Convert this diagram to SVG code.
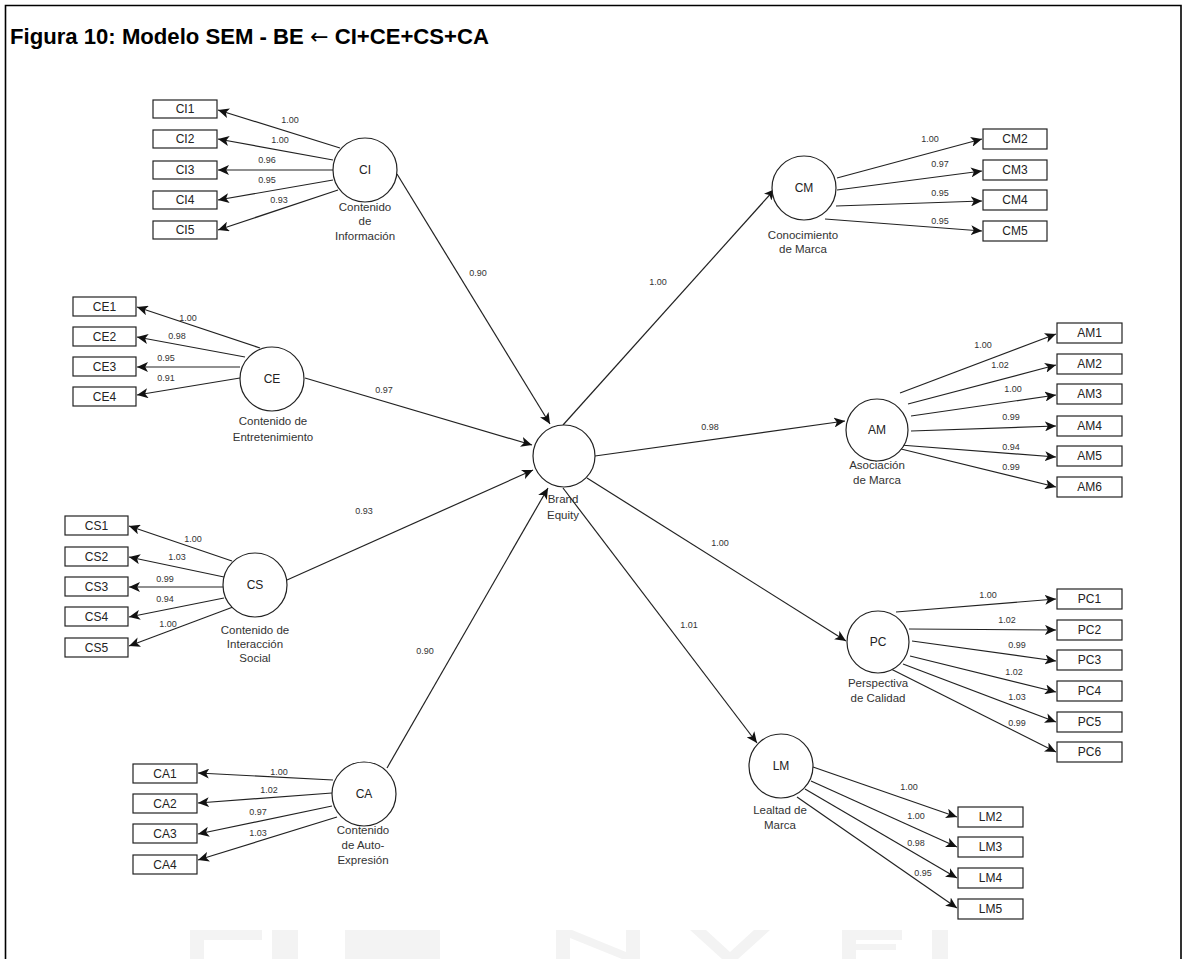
<svg xmlns="http://www.w3.org/2000/svg" width="1187" height="959" viewBox="0 0 1187 959">
  <style>
    .frame { fill: none; stroke: #000; stroke-width: 1.6; }
    .title { font-family: "Liberation Sans", Arial, sans-serif; font-size: 22px; font-weight: bold; fill: #000; }
    .arrowglyph { font-family: "DejaVu Sans", sans-serif; font-weight: normal; }
    .box { fill: #fff; stroke: #222; stroke-width: 1.2; }
    .lat { fill: #fff; stroke: #222; stroke-width: 1.2; }
    .bt { font-family: "Liberation Sans", Arial, sans-serif; font-size: 12px; fill: #222; text-anchor: middle; }
    .ct { font-family: "Liberation Sans", Arial, sans-serif; font-size: 12px; fill: #222; text-anchor: middle; }
    .cap { font-family: "Liberation Sans", Arial, sans-serif; font-size: 11.5px; fill: #333; text-anchor: middle; }
    .w { font-family: "Liberation Sans", Arial, sans-serif; font-size: 9px; fill: #333; text-anchor: middle; }
    .edge { fill: none; stroke: #222; stroke-width: 1.2; marker-end: url(#arr); }
    .wm { fill: #f3f3f3; }
  </style>
  <defs>
    <marker id="arr" markerUnits="userSpaceOnUse" markerWidth="12" markerHeight="10" refX="11" refY="5" orient="auto">
      <path d="M0,0 L11,5 L0,10 L2.8,5 Z" fill="#111"/>
    </marker>
  </defs>

  <rect width="1187" height="959" fill="#fff"/>

  <!-- faint background mark along the bottom -->
  <g id="backmark">
    <path class="wm" d="M190,930 H262 V940 H204 V959 H190 Z"/>
    <rect class="wm" x="272" y="930" width="26" height="29"/>
    <rect class="wm" x="345" y="930" width="95" height="29"/>
    <path class="wm" d="M556,930 H572 L626,952 V930 H640 V959 H622 L570,938 V959 H556 Z"/>
    <path class="wm" d="M690,930 H706 L730,952 L754,930 H770 L738,959 H722 Z"/>
    <path class="wm" d="M842,930 H902 V940 H856 V944 H896 V950 H856 V959 H842 Z"/>
    <rect class="wm" x="932" y="930" width="16" height="29"/>
  </g>

  <!-- outer frame -->
  <path class="frame" d="M5.5,959 V5.5 H1181 V959"/>

  <text class="title" x="10" y="44" textLength="479" lengthAdjust="spacingAndGlyphs">Figura 10: Modelo SEM - BE <tspan class="arrowglyph">←</tspan> CI+CE+CS+CA</text>

  <!-- connectors -->
  <g id="connectors">
    <!-- CI indicators -->
    <line class="edge" x1="340" y1="148" x2="218" y2="110"/>
    <line class="edge" x1="333" y1="160" x2="218" y2="139"/>
    <line class="edge" x1="333" y1="170" x2="218" y2="170"/>
    <line class="edge" x1="333" y1="180" x2="218" y2="200"/>
    <line class="edge" x1="338" y1="190" x2="218" y2="230"/>
    <!-- CE indicators -->
    <line class="edge" x1="260" y1="348" x2="137" y2="307"/>
    <line class="edge" x1="245" y1="357" x2="137" y2="337"/>
    <line class="edge" x1="240" y1="367" x2="137" y2="367"/>
    <line class="edge" x1="240" y1="378" x2="137" y2="395"/>
    <!-- CS indicators -->
    <line class="edge" x1="232" y1="561" x2="129" y2="526"/>
    <line class="edge" x1="224" y1="577" x2="129" y2="557"/>
    <line class="edge" x1="223" y1="587" x2="129" y2="587"/>
    <line class="edge" x1="224" y1="598" x2="129" y2="617"/>
    <line class="edge" x1="233" y1="607" x2="129" y2="646"/>
    <!-- CA indicators -->
    <line class="edge" x1="333" y1="780" x2="198" y2="773"/>
    <line class="edge" x1="332" y1="793" x2="198" y2="803"/>
    <line class="edge" x1="332" y1="806" x2="198" y2="834"/>
    <line class="edge" x1="337" y1="817" x2="198" y2="860"/>
    <!-- CM indicators -->
    <line class="edge" x1="837" y1="178" x2="982" y2="139"/>
    <line class="edge" x1="837" y1="190" x2="982" y2="171"/>
    <line class="edge" x1="836" y1="206" x2="982" y2="201"/>
    <line class="edge" x1="825" y1="219" x2="982" y2="231"/>
    <!-- AM indicators -->
    <line class="edge" x1="900" y1="393" x2="1056" y2="334"/>
    <line class="edge" x1="908" y1="404" x2="1056" y2="365"/>
    <line class="edge" x1="911" y1="416" x2="1056" y2="395"/>
    <line class="edge" x1="911" y1="431" x2="1056" y2="426"/>
    <line class="edge" x1="900" y1="445" x2="1056" y2="457"/>
    <line class="edge" x1="897" y1="448" x2="1056" y2="487"/>
    <!-- PC indicators -->
    <line class="edge" x1="896" y1="612" x2="1056" y2="599"/>
    <line class="edge" x1="909" y1="629" x2="1056" y2="630"/>
    <line class="edge" x1="912" y1="641" x2="1056" y2="661"/>
    <line class="edge" x1="910" y1="656" x2="1056" y2="692"/>
    <line class="edge" x1="903" y1="664" x2="1056" y2="722"/>
    <line class="edge" x1="891" y1="669" x2="1056" y2="752"/>
    <!-- LM indicators -->
    <line class="edge" x1="813" y1="767" x2="957" y2="817"/>
    <line class="edge" x1="811" y1="781" x2="957" y2="847"/>
    <line class="edge" x1="805" y1="789" x2="957" y2="878"/>
    <line class="edge" x1="797" y1="797" x2="957" y2="908"/>
    <!-- structural paths -->
    <line class="edge" x1="397" y1="174" x2="550" y2="424"/>
    <line class="edge" x1="305" y1="378" x2="532" y2="445"/>
    <line class="edge" x1="287" y1="580" x2="533" y2="470"/>
    <line class="edge" x1="387" y1="768" x2="548" y2="488"/>
    <line class="edge" x1="563" y1="425" x2="775" y2="189"/>
    <line class="edge" x1="595" y1="456" x2="845" y2="421"/>
    <line class="edge" x1="587" y1="478" x2="846" y2="641"/>
    <line class="edge" x1="563" y1="488" x2="757" y2="743"/>

    <!-- loadings -->
    <g class="wl">
      <text class="w" x="290" y="123">1.00</text>
      <text class="w" x="280" y="143">1.00</text>
      <text class="w" x="267" y="163">0.96</text>
      <text class="w" x="267" y="183">0.95</text>
      <text class="w" x="279" y="203">0.93</text>

      <text class="w" x="188" y="321">1.00</text>
      <text class="w" x="177" y="339">0.98</text>
      <text class="w" x="166" y="361">0.95</text>
      <text class="w" x="166" y="381">0.91</text>

      <text class="w" x="193" y="542">1.00</text>
      <text class="w" x="177" y="560">1.03</text>
      <text class="w" x="165" y="582">0.99</text>
      <text class="w" x="165" y="602">0.94</text>
      <text class="w" x="168" y="627">1.00</text>

      <text class="w" x="279" y="775">1.00</text>
      <text class="w" x="269" y="793">1.02</text>
      <text class="w" x="258" y="815">0.97</text>
      <text class="w" x="258" y="836">1.03</text>

      <text class="w" x="930" y="142">1.00</text>
      <text class="w" x="940" y="167">0.97</text>
      <text class="w" x="940" y="196">0.95</text>
      <text class="w" x="940" y="224">0.95</text>

      <text class="w" x="983" y="348">1.00</text>
      <text class="w" x="1000" y="368">1.02</text>
      <text class="w" x="1013" y="392">1.00</text>
      <text class="w" x="1011" y="420">0.99</text>
      <text class="w" x="1011" y="450">0.94</text>
      <text class="w" x="1011" y="470">0.99</text>

      <text class="w" x="988" y="598">1.00</text>
      <text class="w" x="1007" y="623">1.02</text>
      <text class="w" x="1017" y="648">0.99</text>
      <text class="w" x="1014" y="675">1.02</text>
      <text class="w" x="1017" y="700">1.03</text>
      <text class="w" x="1017" y="726">0.99</text>

      <text class="w" x="909" y="790">1.00</text>
      <text class="w" x="916" y="819">1.00</text>
      <text class="w" x="916" y="846">0.98</text>
      <text class="w" x="923" y="876">0.95</text>

      <text class="w" x="478" y="276">0.90</text>
      <text class="w" x="384" y="393">0.97</text>
      <text class="w" x="364" y="514">0.93</text>
      <text class="w" x="425" y="654">0.90</text>
      <text class="w" x="658" y="285">1.00</text>
      <text class="w" x="710" y="430">0.98</text>
      <text class="w" x="720" y="546">1.00</text>
      <text class="w" x="689" y="628">1.01</text>
    </g>
  </g>

  <!-- Contenido de Información -->
  <g id="CI">
    <circle class="lat" cx="365" cy="170" r="32"/>
    <text class="ct" x="365" y="174">CI</text>
    <text class="cap" x="365" y="211">Contenido</text>
    <text class="cap" x="365" y="225">de</text>
    <text class="cap" x="365" y="240">Información</text>
  </g>
  <g id="CI1"><rect class="box" x="153" y="100" width="64" height="18"/><text class="bt" x="185" y="113">CI1</text></g>
  <g id="CI2"><rect class="box" x="153" y="130" width="64" height="18"/><text class="bt" x="185" y="143">CI2</text></g>
  <g id="CI3"><rect class="box" x="153" y="161" width="64" height="18"/><text class="bt" x="185" y="174">CI3</text></g>
  <g id="CI4"><rect class="box" x="153" y="191" width="64" height="18"/><text class="bt" x="185" y="204">CI4</text></g>
  <g id="CI5"><rect class="box" x="153" y="221" width="64" height="18"/><text class="bt" x="185" y="234">CI5</text></g>

  <!-- Contenido de Entretenimiento -->
  <g id="CE">
    <circle class="lat" cx="272" cy="379" r="32"/>
    <text class="ct" x="272" y="383">CE</text>
    <text class="cap" x="273" y="425">Contenido de</text>
    <text class="cap" x="273" y="441">Entretenimiento</text>
  </g>
  <g id="CE1"><rect class="box" x="73" y="297" width="63" height="19"/><text class="bt" x="104.5" y="311">CE1</text></g>
  <g id="CE2"><rect class="box" x="73" y="327" width="63" height="19"/><text class="bt" x="104.5" y="341">CE2</text></g>
  <g id="CE3"><rect class="box" x="73" y="357" width="63" height="19"/><text class="bt" x="104.5" y="371">CE3</text></g>
  <g id="CE4"><rect class="box" x="73" y="387" width="63" height="19"/><text class="bt" x="104.5" y="401">CE4</text></g>

  <!-- Contenido de Interacción Social -->
  <g id="CS">
    <circle class="lat" cx="255" cy="585" r="32"/>
    <text class="ct" x="255" y="589">CS</text>
    <text class="cap" x="255" y="634">Contenido de</text>
    <text class="cap" x="255" y="648">Interacción</text>
    <text class="cap" x="255" y="662">Social</text>
  </g>
  <g id="CS1"><rect class="box" x="65" y="516" width="63" height="19"/><text class="bt" x="96.5" y="530">CS1</text></g>
  <g id="CS2"><rect class="box" x="65" y="547" width="63" height="19"/><text class="bt" x="96.5" y="561">CS2</text></g>
  <g id="CS3"><rect class="box" x="65" y="577" width="63" height="19"/><text class="bt" x="96.5" y="591">CS3</text></g>
  <g id="CS4"><rect class="box" x="65" y="607" width="63" height="19"/><text class="bt" x="96.5" y="621">CS4</text></g>
  <g id="CS5"><rect class="box" x="65" y="638" width="63" height="19"/><text class="bt" x="96.5" y="652">CS5</text></g>

  <!-- Contenido de Auto-Expresión -->
  <g id="CA">
    <circle class="lat" cx="364" cy="794" r="32"/>
    <text class="ct" x="364" y="798">CA</text>
    <text class="cap" x="363" y="834">Contenido</text>
    <text class="cap" x="363" y="849">de Auto-</text>
    <text class="cap" x="363" y="864">Expresión</text>
  </g>
  <g id="CA1"><rect class="box" x="133" y="764" width="64" height="19"/><text class="bt" x="165" y="778">CA1</text></g>
  <g id="CA2"><rect class="box" x="133" y="794" width="64" height="19"/><text class="bt" x="165" y="808">CA2</text></g>
  <g id="CA3"><rect class="box" x="133" y="824" width="64" height="19"/><text class="bt" x="165" y="838">CA3</text></g>
  <g id="CA4"><rect class="box" x="133" y="855" width="64" height="19"/><text class="bt" x="165" y="869">CA4</text></g>

  <!-- Brand Equity -->
  <g id="BE">
    <circle class="lat" cx="564" cy="456" r="31"/>
    <text class="cap" x="563" y="503">Brand</text>
    <text class="cap" x="563" y="519">Equity</text>
  </g>

  <!-- Conocimiento de Marca -->
  <g id="CM">
    <circle class="lat" cx="804" cy="188" r="32"/>
    <text class="ct" x="804" y="192">CM</text>
    <text class="cap" x="803" y="239">Conocimiento</text>
    <text class="cap" x="803" y="253">de Marca</text>
  </g>
  <g id="CM2"><rect class="box" x="983" y="129" width="64" height="20"/><text class="bt" x="1015" y="143">CM2</text></g>
  <g id="CM3"><rect class="box" x="983" y="160" width="64" height="20"/><text class="bt" x="1015" y="174">CM3</text></g>
  <g id="CM4"><rect class="box" x="983" y="190" width="64" height="20"/><text class="bt" x="1015" y="204">CM4</text></g>
  <g id="CM5"><rect class="box" x="983" y="221" width="64" height="20"/><text class="bt" x="1015" y="235">CM5</text></g>

  <!-- Asociación de Marca -->
  <g id="AM">
    <circle class="lat" cx="877" cy="430" r="31"/>
    <text class="ct" x="877" y="434">AM</text>
    <text class="cap" x="877" y="469">Asociación</text>
    <text class="cap" x="877" y="484">de Marca</text>
  </g>
  <g id="AM1"><rect class="box" x="1057" y="323" width="65" height="20"/><text class="bt" x="1089.5" y="337">AM1</text></g>
  <g id="AM2"><rect class="box" x="1057" y="354" width="65" height="20"/><text class="bt" x="1089.5" y="368">AM2</text></g>
  <g id="AM3"><rect class="box" x="1057" y="384" width="65" height="20"/><text class="bt" x="1089.5" y="398">AM3</text></g>
  <g id="AM4"><rect class="box" x="1057" y="416" width="65" height="20"/><text class="bt" x="1089.5" y="430">AM4</text></g>
  <g id="AM5"><rect class="box" x="1057" y="446" width="65" height="20"/><text class="bt" x="1089.5" y="460">AM5</text></g>
  <g id="AM6"><rect class="box" x="1057" y="477" width="65" height="20"/><text class="bt" x="1089.5" y="491">AM6</text></g>

  <!-- Perspectiva de Calidad -->
  <g id="PC">
    <circle class="lat" cx="878" cy="642" r="31"/>
    <text class="ct" x="878" y="646">PC</text>
    <text class="cap" x="878" y="687">Perspectiva</text>
    <text class="cap" x="878" y="702">de Calidad</text>
  </g>
  <g id="PC1"><rect class="box" x="1057" y="589" width="65" height="20"/><text class="bt" x="1089.5" y="603">PC1</text></g>
  <g id="PC2"><rect class="box" x="1057" y="620" width="65" height="20"/><text class="bt" x="1089.5" y="634">PC2</text></g>
  <g id="PC3"><rect class="box" x="1057" y="650" width="65" height="20"/><text class="bt" x="1089.5" y="664">PC3</text></g>
  <g id="PC4"><rect class="box" x="1057" y="681" width="65" height="20"/><text class="bt" x="1089.5" y="695">PC4</text></g>
  <g id="PC5"><rect class="box" x="1057" y="712" width="65" height="20"/><text class="bt" x="1089.5" y="726">PC5</text></g>
  <g id="PC6"><rect class="box" x="1057" y="742" width="65" height="20"/><text class="bt" x="1089.5" y="756">PC6</text></g>

  <!-- Lealtad de Marca -->
  <g id="LM">
    <circle class="lat" cx="781" cy="766" r="32"/>
    <text class="ct" x="781" y="770">LM</text>
    <text class="cap" x="780" y="814">Lealtad de</text>
    <text class="cap" x="780" y="829">Marca</text>
  </g>
  <g id="LM2"><rect class="box" x="958" y="807" width="65" height="20"/><text class="bt" x="990.5" y="821">LM2</text></g>
  <g id="LM3"><rect class="box" x="958" y="837" width="65" height="20"/><text class="bt" x="990.5" y="851">LM3</text></g>
  <g id="LM4"><rect class="box" x="958" y="868" width="65" height="20"/><text class="bt" x="990.5" y="882">LM4</text></g>
  <g id="LM5"><rect class="box" x="958" y="899" width="65" height="20"/><text class="bt" x="990.5" y="913">LM5</text></g>
</svg>
